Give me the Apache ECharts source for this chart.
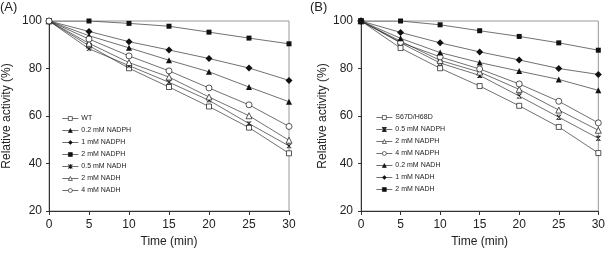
<!DOCTYPE html>
<html>
<head>
<meta charset="utf-8">
<script src="https://cdn.jsdelivr.net/npm/echarts@6/dist/echarts.min.js"></script>
<style>
  html, body { margin: 0; padding: 0; background: #fff; }
  #main { width: 608px; height: 253px; }
</style>
</head>
<body>
<div id="main"></div>
<script>
// time points (min)
const minutes = [0, 5, 10, 15, 20, 25, 30];

// panel A: WT with cofactors
const wtA      = [100, 89.6, 80.1, 72.2, 64.0, 55.1, 44.3];
const nadph02A = [100, 93.8, 88.7, 83.5, 78.6, 72.2, 66.0];
const nadph1A  = [100, 95.6, 91.3, 87.8, 84.2, 80.2, 75.0];
const nadph2A  = [100, 100, 99.0, 97.8, 95.3, 92.8, 90.4];
const nadh05A  = [100, 88.3, 81.2, 74.2, 66.6, 56.8, 47.4];
const nadh2A   = [100, 90.6, 82.5, 76.4, 68.0, 60.1, 49.8];
const nadh4A   = [100, 92.4, 85.3, 79.0, 71.8, 64.7, 55.6];

// panel B: S67D/H68D with cofactors
const mutB     = [100, 88.6, 80.1, 72.6, 64.3, 55.4, 44.4];
const nadph05B = [100, 90.8, 82.3, 77.1, 68.4, 59.5, 50.6];
const nadph2B  = [100, 91.5, 83.4, 78.5, 71.2, 62.5, 54.0];
const nadph4B  = [100, 91.0, 84.9, 79.8, 73.5, 66.2, 57.1];
const nadh02B  = [100, 92.7, 86.7, 82.5, 78.9, 75.4, 70.8];
const nadh1B   = [100, 95.2, 90.8, 87.0, 83.6, 80.0, 77.5];
const nadh2B   = [100, 100, 98.4, 95.9, 93.5, 90.8, 87.7];

const xTicks = [0, 5, 10, 15, 20, 25, 30];
const yTicks = [20, 40, 60, 80, 100];

const asterisk = 'path://M0,1L1,0L10,9L9,10Z M9,0L10,1L1,10L0,9Z M4.4,0L5.6,0L5.6,10L4.4,10Z';
const xcap = 'path://M1.5,1L2.5,0L8.5,9L7.5,10Z M7.5,0L8.5,1L2.5,10L1.5,9Z M1,0L9,0L9,1.2L1,1.2Z M1,8.8L9,8.8L9,10L1,10Z';

const lineColor = '#333';
const font = 'Liberation Sans, Arial, sans-serif';

// open = white fill with thin dark outline
function mk(panel, name, values, symbol, size, open) {
  return {
    type: 'line',
    name: panel + '|' + name,
    xAxisIndex: panel === 'A' ? 0 : 1,
    yAxisIndex: panel === 'A' ? 0 : 1,
    data: values.map((v, i) => [minutes[i], v]),
    symbol: symbol,
    symbolSize: size || 5,
    showAllSymbol: true,
    lineStyle: { color: lineColor, width: 0.7 },
    itemStyle: open
      ? { color: '#fff', borderColor: '#111', borderWidth: 0.7 }
      : { color: '#111', borderColor: '#111', borderWidth: 0 },
    emphasis: { disabled: true },
    animation: false,
    z: 2
  };
}

function xAx(grid) {
  return {
    type: 'value', gridIndex: grid, min: 0, max: 30, interval: 5,
    name: 'Time (min)', nameLocation: 'middle', nameGap: 25,
    nameTextStyle: { fontSize: 12, color: '#222', fontFamily: font },
    axisLine: { lineStyle: { color: '#333', width: 1 } },
    axisTick: { inside: false, length: 4, lineStyle: { color: '#333' } },
    axisLabel: { fontSize: 12, color: '#222', margin: 8, fontFamily: font,
      formatter: v => xTicks.includes(v) ? String(v) : '' },
    splitLine: { show: false }
  };
}

function yAx(grid, gap, margin) {
  return {
    type: 'value', gridIndex: grid, min: 20, max: 100, interval: 20,
    name: 'Relative activity (%)', nameLocation: 'middle', nameGap: gap,
    nameTextStyle: { fontSize: 12, color: '#222', fontFamily: font },
    axisLine: { show: true, lineStyle: { color: '#333', width: 1 } },
    axisTick: { show: true, inside: false, length: 3, lineStyle: { color: '#333' } },
    axisLabel: { fontSize: 12, color: '#222', margin: margin, fontFamily: font,
      formatter: v => yTicks.includes(v) ? String(v) : '' },
    splitLine: { show: false }
  };
}

const seriesA = [
  mk('A', 'WT', wtA, 'rect', 5, true),
  mk('A', '0.2 mM NADPH', nadph02A, 'triangle', 6),
  mk('A', '1 mM NADPH', nadph1A, 'diamond', 7),
  mk('A', '2 mM NADPH', nadph2A, 'rect', 5),
  mk('A', '0.5 mM NADH', nadh05A, asterisk, 5),
  mk('A', '2 mM NADH', nadh2A, 'triangle', 6, true),
  mk('A', '4 mM NADH', nadh4A, 'circle', 6, true)
];
const seriesB = [
  mk('B', 'S67D/H68D', mutB, 'rect', 5, true),
  mk('B', '0.5 mM NADPH', nadph05B, xcap, 5),
  mk('B', '2 mM NADPH', nadph2B, 'triangle', 6, true),
  mk('B', '4 mM NADPH', nadph4B, 'circle', 6, true),
  mk('B', '0.2 mM NADH', nadh02B, 'triangle', 6),
  mk('B', '1 mM NADH', nadh1B, 'diamond', 7),
  mk('B', '2 mM NADH', nadh2B, 'rect', 5)
];

function legend(series, left, top) {
  return {
    data: series.map(s => s.name),
    orient: 'vertical', left: left, top: top,
    itemWidth: 16, itemHeight: 5, itemGap: 5,
    selectedMode: false,
    formatter: n => n.split('|')[1],
    itemStyle: { borderWidth: 0.6 },
    lineStyle: { width: 0.7 },
    textStyle: { fontSize: 7, color: '#222', fontFamily: font, lineHeight: 5, padding: [0, 0, 0, -2] },
    padding: 0
  };
}

const chart = echarts.init(document.getElementById('main'), null, { renderer: 'canvas' });
chart.setOption({
  animation: false,
  backgroundColor: '#fff',
  title: [
    { text: '(A)', left: 0, top: 1, padding: 0, textStyle: { fontSize: 13, fontWeight: 'normal', color: '#222', fontFamily: font } },
    { text: '(B)', left: 310, top: 1, padding: 0, textStyle: { fontSize: 13, fontWeight: 'normal', color: '#222', fontFamily: font } }
  ],
  grid: [
    { left: 47, top: 21, width: 242, height: 194, show: true, borderColor: '#999', borderWidth: 1, backgroundColor: 'transparent' },
    { left: 361, top: 21, width: 242, height: 194, show: true, borderColor: '#999', borderWidth: 1, backgroundColor: 'transparent' }
  ],
  xAxis: [xAx(0), xAx(1)],
  yAxis: [yAx(0, 36, 7), yAx(1, 26, 8)],
  legend: [legend(seriesA, 62, 115), legend(seriesB, 376, 114)],
  series: seriesA.concat(seriesB)
});
</script>
</body>
</html>
